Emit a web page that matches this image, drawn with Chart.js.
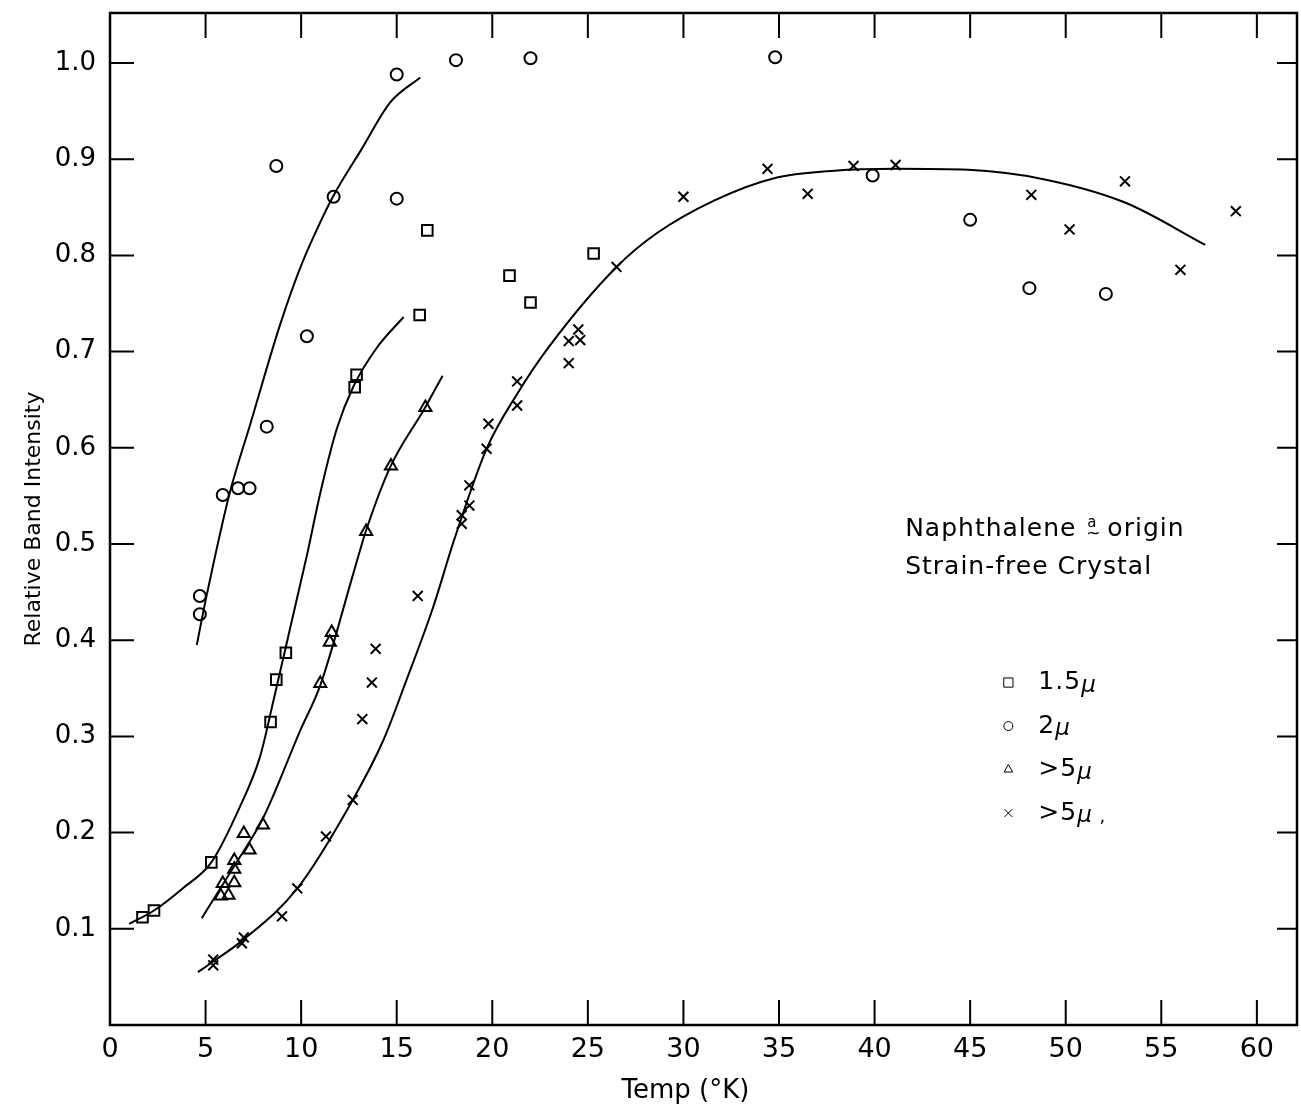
<!DOCTYPE html>
<html>
<head>
<meta charset="utf-8">
<script src="https://cdn.jsdelivr.net/npm/chart.js@4.4.1/dist/chart.umd.min.js"></script>
<style>
  html, body { margin: 0; padding: 0; background: #fff; }
</style>
</head>
<body>
<canvas id="chart" width="1301" height="1112"></canvas>
<script>
// measured points, 1.5 micron (squares)
const sqTemp = [1.7, 2.3, 5.3, 8.4, 8.7, 9.2, 12.8, 12.9, 16.2, 16.6, 20.9, 22.0, 25.3];
const sqInt  = [0.112, 0.119, 0.169, 0.315, 0.359, 0.387, 0.663, 0.676, 0.738, 0.826, 0.779, 0.751, 0.802];

// 2 micron (circles)
const ciTemp = [4.7, 4.7, 5.9, 6.7, 7.3, 8.2, 8.7, 10.3, 11.7, 15.0, 15.0, 18.1, 22.0, 34.8, 39.9, 45.0, 48.1, 52.1];
const ciInt  = [0.446, 0.427, 0.551, 0.558, 0.558, 0.622, 0.893, 0.716, 0.861, 0.859, 0.988, 1.003, 1.005, 1.006, 0.883, 0.837, 0.766, 0.760];

// >5 micron (triangles)
const trTemp = [5.8, 6.2, 5.9, 6.5, 6.5, 6.5, 7.0, 7.3, 8.0, 11.0, 11.5, 11.6, 13.4, 14.7, 16.5];
const trInt  = [0.134, 0.135, 0.147, 0.148, 0.162, 0.171, 0.199, 0.182, 0.208, 0.355, 0.398, 0.408, 0.513, 0.581, 0.642];

// >5 micron (crosses)
const crTemp = [5.4, 5.4, 6.9, 7.0, 9.0, 9.8, 11.3, 12.7, 13.2, 13.7, 13.9, 16.1, 18.4, 18.4, 18.8, 18.8, 19.7, 19.8, 21.3, 21.3,
                24.0, 24.0, 24.5, 24.6, 26.5, 30.0, 34.4, 36.5, 38.9, 41.1, 48.2, 50.2, 53.1, 56.0, 58.9];
const crInt  = [0.062, 0.068, 0.085, 0.091, 0.113, 0.142, 0.196, 0.234, 0.318, 0.356, 0.391, 0.446, 0.521, 0.530, 0.540, 0.561, 0.599, 0.625, 0.644, 0.669,
                0.688, 0.711, 0.723, 0.712, 0.788, 0.861, 0.890, 0.864, 0.893, 0.894, 0.863, 0.827, 0.877, 0.785, 0.846];

// hand drawn curves
const fitCiTemp = [4.54, 5.03, 6.25, 7.33, 8.90, 9.95, 10.64, 11.66, 13.18, 14.66, 16.23];
const fitCiInt  = [0.395, 0.444, 0.552, 0.624, 0.728, 0.787, 0.819, 0.861, 0.911, 0.959, 0.985];
const fitSqTemp = [1.0, 2.3, 3.8, 5.3, 6.8, 7.85, 8.55, 10.3, 10.99, 11.87, 12.74, 13.96, 15.36];
const fitSqInt  = [0.105, 0.119, 0.142, 0.169, 0.227, 0.279, 0.337, 0.488, 0.552, 0.620, 0.664, 0.704, 0.736];
const fitTrTemp = [4.8, 6.46, 8.03, 9.95, 11.0, 12.74, 13.38, 14.66, 16.49, 17.4];
const fitTrInt  = [0.111, 0.164, 0.216, 0.306, 0.353, 0.470, 0.513, 0.580, 0.642, 0.675];
const fitCrTemp = [4.6, 5.4, 7.0, 9.8, 12.7, 14.3, 15.5, 16.9, 18.0, 19.7, 21.3, 23.0, 26.5, 28.6, 31.6, 34.7, 37.9, 41.1, 44.9, 48.9, 53.1, 57.3];
const fitCrInt  = [0.055, 0.066, 0.089, 0.142, 0.234, 0.296, 0.358, 0.434, 0.504, 0.599, 0.656, 0.706, 0.788, 0.823, 0.857, 0.880, 0.888, 0.890, 0.889, 0.879, 0.855, 0.811];

const xTicks = [0, 5, 10, 15, 20, 25, 30, 35, 40, 45, 50, 55, 60];
const yTicks = [0.1, 0.2, 0.3, 0.4, 0.5, 0.6, 0.7, 0.8, 0.9, 1.0];

const FONT = "'DejaVu Sans', sans-serif";

function pts(xs, ys) {
    return xs.map(function (v, i) { return {x: v, y: ys[i]}; });
}

function markers(label, xs, ys, style, r) {
    return {
        label: label,
        data: pts(xs, ys),
        showLine: false,
        pointStyle: style,
        pointRadius: r,
        pointBorderWidth: 2,
        borderColor: "#000",
        pointBorderColor: "#000",
        backgroundColor: "rgba(0,0,0,0)",
        pointBackgroundColor: "rgba(0,0,0,0)"
    };
}

function curve(xs, ys) {
    return {
        label: "",
        isFit: true,
        data: pts(xs, ys),
        showLine: true,
        pointRadius: 0,
        borderColor: "#000",
        borderWidth: 2,
        cubicInterpolationMode: "monotone",
        fill: false
    };
}

// frame with inward ticks on all four sides
const frameTicks = {
    id: "frameTicks",
    afterDraw: function (chart) {
        const ctx = chart.ctx, a = chart.chartArea;
        const sx = chart.scales.x, sy = chart.scales.y;
        ctx.save();
        ctx.strokeStyle = "#000";
        ctx.lineWidth = 2.5;
        ctx.strokeRect(a.left, a.top, a.right - a.left, a.bottom - a.top);
        ctx.lineWidth = 2;
        ctx.beginPath();
        xTicks.forEach(function (v) {
            if (v <= 0) return;
            const px = sx.getPixelForValue(v);
            ctx.moveTo(px, a.bottom); ctx.lineTo(px, a.bottom - 25);
            ctx.moveTo(px, a.top); ctx.lineTo(px, a.top + 25);
        });
        yTicks.forEach(function (v) {
            const py = sy.getPixelForValue(v);
            ctx.moveTo(a.left, py); ctx.lineTo(a.left + 24, py);
            ctx.moveTo(a.right, py); ctx.lineTo(a.right - 20, py);
        });
        ctx.stroke();

        // x axis title
        ctx.fillStyle = "#000";
        ctx.font = "26px " + FONT;
        ctx.textAlign = "center";
        ctx.textBaseline = "middle";
        ctx.fillText("Temp (°K)", sx.getPixelForValue(30) + 2, 1091);
        ctx.restore();
    }
};

// caption and symbol key inside the plot
const keyText = {
    id: "keyText",
    afterDraw: function (chart) {
        const ctx = chart.ctx;
        const sx = chart.scales.x, sy = chart.scales.y;
        ctx.save();
        ctx.fillStyle = "#000";
        ctx.textBaseline = "alphabetic";
        ctx.textAlign = "left";
        ctx.letterSpacing = "1px";

        let tx = sx.getPixelForValue(41.6), ty = sy.getPixelForValue(0.508);
        ctx.font = "25px " + FONT;
        ctx.fillText("Naphthalene", tx, ty);
        let w = ctx.measureText("Naphthalene ").width;
        ctx.font = "15px " + FONT;
        ctx.fillText("a", tx + w + 2, ty - 9);
        ctx.font = "17px " + FONT;
        ctx.fillText("~", tx + w + 1, ty + 3);
        ctx.font = "25px " + FONT;
        ctx.fillText("origin", tx + w + 22, ty);
        ctx.fillText("Strain-free Crystal", tx, ty + 38);

        // key entries come from the marker datasets
        const kx = sx.getPixelForValue(47.0);
        let ky = sy.getPixelForValue(0.356);
        const sets = chart.data.datasets.filter(function (d) { return !d.isFit; });
        sets.forEach(function (d) {
            ctx.fillStyle = "rgba(0,0,0,0)";
            ctx.strokeStyle = "#000";
            let r = 4.5;
            if (d.pointStyle === "rect") r = 6.5;
            if (d.pointStyle === "crossRot") r = 5.5;
            if (d.pointStyle === "triangle") r = 5;
            Chart.helpers.drawPoint(ctx, {
                pointStyle: d.pointStyle,
                radius: r,
                rotation: 0,
                borderWidth: 2
            }, kx, ky);
            ctx.fillStyle = "#000";
            const parts = d.label.split("μ");
            let lx = kx + 30;
            ctx.font = "25px " + FONT;
            ctx.textBaseline = "middle";
            ctx.fillText(parts[0], lx, ky);
            lx += ctx.measureText(parts[0]).width;
            ctx.font = "italic 23px " + FONT;
            ctx.fillText("μ", lx, ky + 3);
            lx += ctx.measureText("μ").width;
            if (parts[1]) {
                ctx.font = "18px " + FONT;
                ctx.fillText(parts[1], lx, ky + 4);
            }
            ky += 43.5;
        });
        ctx.restore();
    }
};

const ctx1 = document.getElementById("chart").getContext("2d");
const myChart = new Chart(ctx1, {
    type: "scatter",
    data: {
        datasets: [
            markers("1.5μ", sqTemp, sqInt, "rect", 7.5),
            markers("2μ", ciTemp, ciInt, "circle", 6),
            markers(">5μ", trTemp, trInt, "triangle", 7),
            markers(">5μ ,", crTemp, crInt, "crossRot", 7),
            curve(fitCiTemp, fitCiInt),
            curve(fitSqTemp, fitSqInt),
            curve(fitTrTemp, fitTrInt),
            curve(fitCrTemp, fitCrInt)
        ]
    },
    options: {
        responsive: false,
        animation: false,
        layout: { autoPadding: false, padding: { top: 13, right: 4, left: 0, bottom: 0 } },
        plugins: {
            legend: { display: false },
            tooltip: { enabled: false }
        },
        scales: {
            x: {
                type: "linear",
                min: 0,
                max: 62.1,
                grid: { display: false, drawTicks: false },
                border: { display: false },
                afterFit: function (s) { s.height = 87; s.paddingLeft = 0; s.paddingRight = 0; },
                afterBuildTicks: function (s) { s.ticks = xTicks.map(function (v) { return {value: v}; }); },
                ticks: {
                    color: "#000",
                    font: { family: FONT, size: 27 },
                    padding: 9,
                    maxRotation: 0,
                    callback: function (v) { return String(v); }
                }
            },
            y: {
                type: "linear",
                min: 0,
                max: 1.052,
                grid: { display: false, drawTicks: false },
                border: { display: false },
                afterFit: function (s) { s.width = 110; s.paddingTop = 0; s.paddingBottom = 0; },
                afterBuildTicks: function (s) { s.ticks = yTicks.map(function (v) { return {value: v}; }); },
                title: {
                    display: true,
                    text: "Relative Band Intensity",
                    color: "#000",
                    font: { family: FONT, size: 22 },
                    padding: { top: 21, bottom: 0 }
                },
                ticks: {
                    color: "#000",
                    font: { family: FONT, size: 26 },
                    padding: 14,
                    callback: function (v) { return v.toFixed(1); }
                }
            }
        }
    },
    plugins: [frameTicks, keyText]
});
</script>
</body>
</html>
